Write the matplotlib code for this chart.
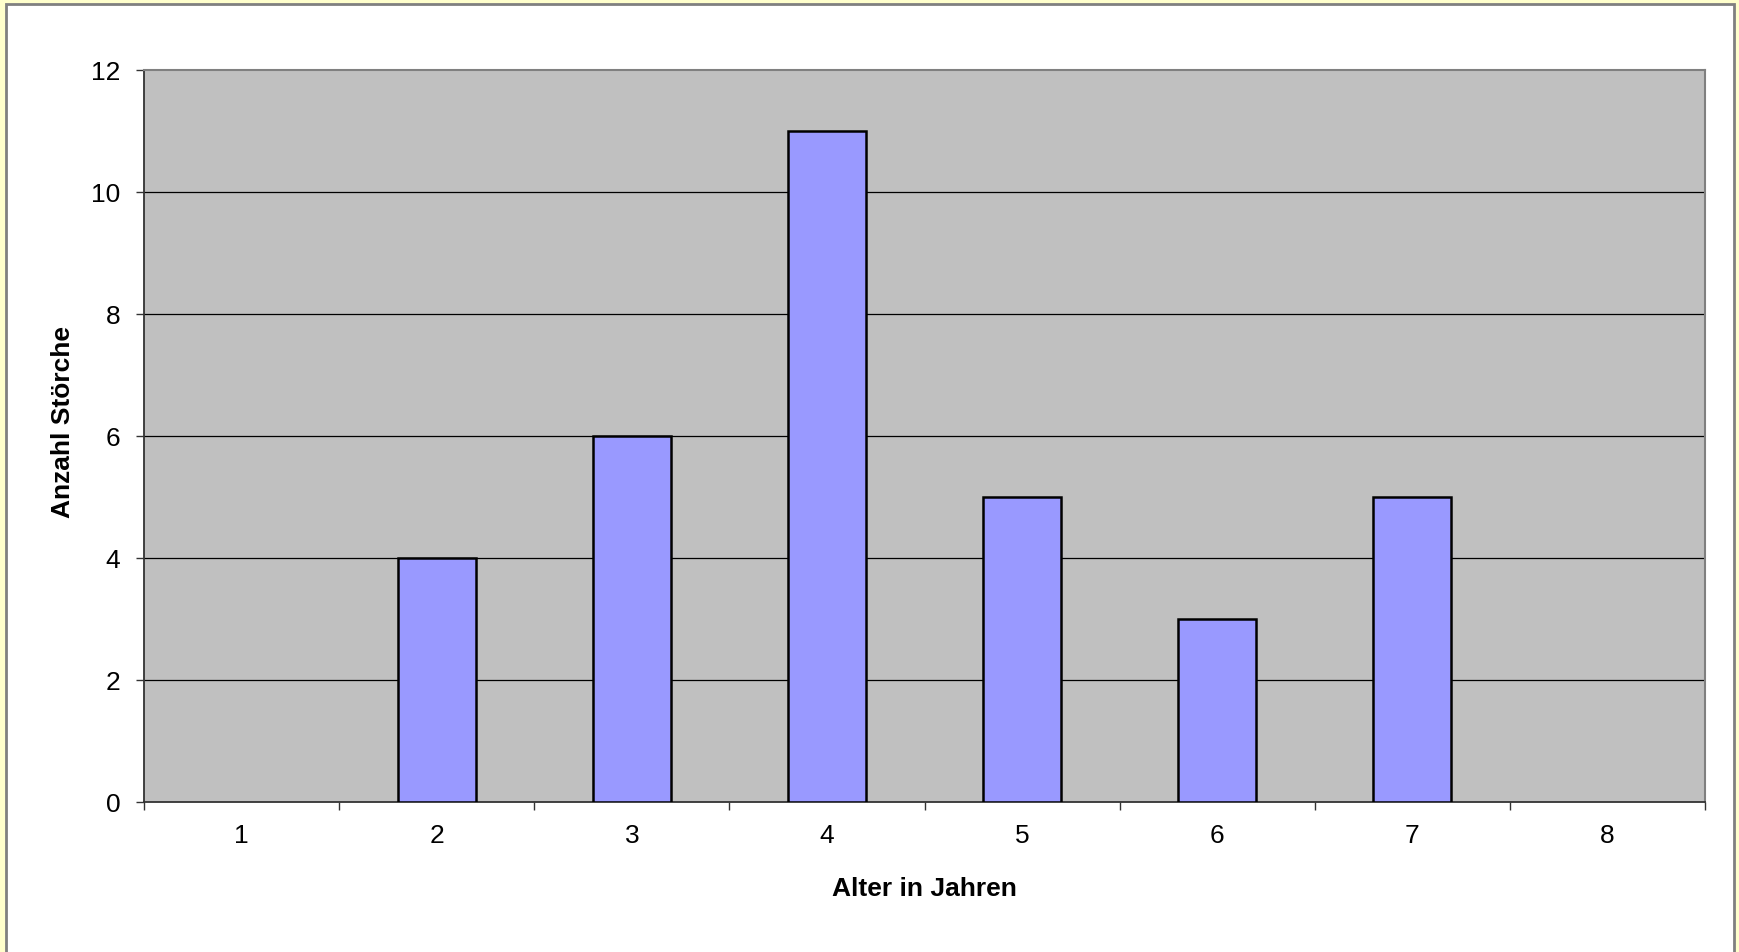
import numpy as np
import matplotlib.pyplot as plt
from matplotlib.patches import Rectangle

# Data
alter = [1, 2, 3, 4, 5, 6, 7, 8]
anzahl = [0, 4, 6, 11, 5, 3, 5, 0]
y_ticks = [0, 2, 4, 6, 8, 10, 12]

plt.rcParams['font.family'] = ['Liberation Sans', 'DejaVu Sans']

W, H = 1739, 953
fig = plt.figure(figsize=(W / 100, H / 100), dpi=100, facecolor='#FFFFCC')

# white chart area with gray border
frame = Rectangle((6 / W, -0.01), (1734 - 6) / W, 1 - 5 / H + 0.01,
                  transform=fig.transFigure, facecolor='white',
                  edgecolor='#808080', linewidth=2, zorder=-10)
fig.add_artist(frame)

left, right, top, bottom = 144, 1705, 71, 803
ax = fig.add_axes([left / W, 1 - bottom / H, (right - left) / W, (bottom - top) / H])
ax.set_zorder(5)
ax.set_facecolor('#C0C0C0')

# zero bars have no visible outline in the original
lws = [1.8 if v else 0 for v in anzahl]
ax.bar(alter, anzahl, width=0.4, color='#9999FF', edgecolor='black', linewidth=lws, zorder=3)

ax.set_xlim(0.5, 8.5)
ax.set_ylim(0, 12)

# gridlines
for v in y_ticks[1:-1]:
    ax.axhline(v, color='black', linewidth=0.9, zorder=1)

# x ticks between categories, labels at centers
bounds = np.arange(0.5, 9.0, 1.0)
ax.set_xticks(bounds)
ax.set_xticklabels([''] * len(bounds))
ax.set_xticks(alter, minor=True)
ax.set_xticklabels([str(a) for a in alter], minor=True)
ax.tick_params(axis='x', which='major', direction='out', length=6, width=1, color='#333333')
ax.tick_params(axis='x', which='minor', length=0, pad=15, labelsize=19)

ax.set_yticks(y_ticks)
ax.set_yticklabels([str(v) for v in y_ticks])
ax.tick_params(axis='y', direction='out', length=6, width=1, color='#333333', pad=11, labelsize=19)

for s in ['top', 'right']:
    ax.spines[s].set_color('#808080')
    ax.spines[s].set_linewidth(1.5)
for s in ['left', 'bottom']:
    ax.spines[s].set_color('#333333')
    ax.spines[s].set_linewidth(1.3)

ax.set_xlabel('Alter in Jahren', fontsize=19, fontweight='bold', va='center')
ax.set_ylabel('Anzahl Störche', fontsize=19, fontweight='bold', va='center')
ax.xaxis.set_label_coords(0.5, (803 - 889) / (bottom - top))
ax.yaxis.set_label_coords((63 - left) / (right - left), (bottom - 422) / (bottom - top))

fig.savefig('out.png', dpi=100, facecolor=fig.get_facecolor())
